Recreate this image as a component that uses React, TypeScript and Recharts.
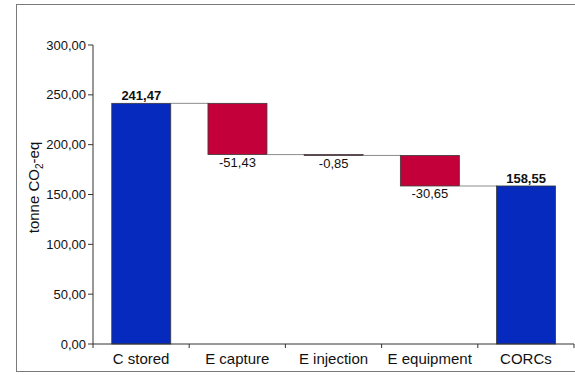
import React from "react";
import { BarChart, Bar, XAxis, YAxis } from "recharts";

const categories = ["C stored", "E capture", "E injection", "E equipment", "CORCs"];
const values = [241.47, -51.43, -0.85, -30.65, 158.55];
const isTotal = [true, false, false, false, true];
const yTicks = [0, 50, 100, 150, 200, 250, 300];

const W = 575;
const H = 375;
const MARGIN = { top: 45, right: 1, bottom: 0, left: 0 };
const Y_AXIS_W = 93;
const X_AXIS_H = 31;
const GAP = 0.195; // barCategoryGap, each side
const BAND = (W - MARGIN.left - MARGIN.right - Y_AXIS_W) / categories.length;

const BLUE = "#0629BE";
const RED = "#C3003A";
const FONT = "'Liberation Sans', Arial, sans-serif";

const fmt = (v: number) => v.toFixed(2).replace(".", ",");

// waterfall rows: transparent base + visible part
let running = 0;
const rows = categories.map((name, i) => {
  const v = values[i];
  let base = 0;
  let size = v;
  if (isTotal[i]) {
    running = v;
  } else {
    base = running + v;
    size = -v;
    running += v;
  }
  return { name, base, size, value: v, total: isTotal[i], last: i === categories.length - 1 };
});

const WaterfallBar = (props: any) => {
  const { x, y, width, height, payload } = props;
  const endY = payload.total ? y : y + height;
  const gap = (width * 2 * GAP) / (1 - 2 * GAP);
  return (
    <g>
      <rect
        x={x}
        y={y}
        width={width}
        height={Math.max(height, 0.8)}
        fill={payload.total ? BLUE : RED}
        stroke="#3a3a3a"
        strokeWidth={0.8}
      />
      {!payload.last && (
        <line x1={x + width} x2={x + width + gap} y1={endY} y2={endY} stroke="#8c8c8c" strokeWidth={1} />
      )}
      {payload.total ? (
        <text x={x + width / 2} y={y - 3} textAnchor="middle" fontSize={13} fontWeight="bold" fill="#111" fontFamily={FONT}>
          {fmt(payload.value)}
        </text>
      ) : (
        <text x={x + width / 2} y={y + height + 12.5} textAnchor="middle" fontSize={13} fill="#111" fontFamily={FONT}>
          {fmt(payload.value)}
        </text>
      )}
    </g>
  );
};

const CategoryTick = (props: any) => {
  const { x, y, payload, index } = props;
  const left = x - BAND / 2;
  const right = x + BAND / 2;
  return (
    <g>
      <line x1={left} x2={left} y1={y} y2={y + 4} stroke="#333" />
      {index === categories.length - 1 && <line x1={right} x2={right} y1={y} y2={y + 4} stroke="#333" />}
      <text x={x} y={y + 20} textAnchor="middle" fontSize={15} fill="#111" fontFamily={FONT}>
        {payload.value}
      </text>
    </g>
  );
};

const YLabel = (props: any) => {
  const vb = props.viewBox || { x: 0, y: 45, width: 93, height: 299 };
  const cx = vb.x + 39;
  const cy = vb.y + vb.height / 2 - 7;
  return (
    <text x={cx} y={cy} transform={`rotate(-90, ${cx}, ${cy})`} textAnchor="middle" fontSize={15} fill="#111" fontFamily={FONT}>
      tonne CO
      <tspan fontSize={10} dy={4}>2</tspan>
      <tspan dy={-4}>-eq</tspan>
    </text>
  );
};

export default function App() {
  return (
    <div style={{ position: "absolute", left: 0, top: 0, width: W, height: H, background: "#fff" }}>
      <div
        style={{
          position: "absolute",
          left: 16,
          top: 4,
          width: W - 16,
          height: 368,
          boxSizing: "border-box",
          borderTop: "1px solid #7a7a7a",
          borderLeft: "1px solid #7a7a7a",
          borderBottom: "1px solid #7a7a7a",
        }}
      />
      <div style={{ position: "absolute", left: 0, top: 0 }}>
        <BarChart width={W} height={H} data={rows} margin={MARGIN} barCategoryGap={`${GAP * 100}%`}>
          <XAxis
            dataKey="name"
            height={X_AXIS_H}
            tickLine={false}
            tickSize={0}
            tickMargin={0}
            axisLine={{ stroke: "#333" }}
            tick={<CategoryTick />}
            interval={0}
          />
          <YAxis
            width={Y_AXIS_W}
            domain={[0, 300]}
            ticks={yTicks}
            tickFormatter={fmt}
            tickSize={5}
            tickMargin={2}
            axisLine={{ stroke: "#333" }}
            tickLine={{ stroke: "#333" }}
            tick={{ fontSize: 13, fill: "#111", fontFamily: FONT }}
            label={{ content: <YLabel /> }}
          />
          <Bar dataKey="base" stackId="w" fill="transparent" isAnimationActive={false} />
          <Bar dataKey="size" stackId="w" shape={<WaterfallBar />} isAnimationActive={false} />
        </BarChart>
      </div>
    </div>
  );
}
